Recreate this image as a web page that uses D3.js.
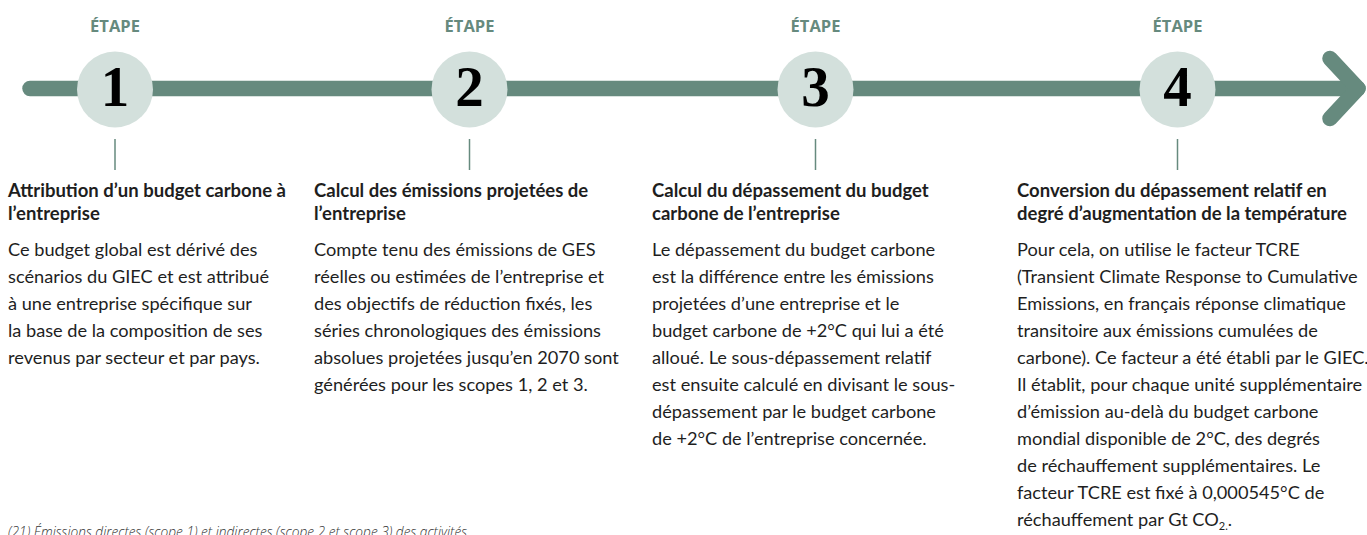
<!DOCTYPE html>
<meta charset="utf-8">
<html>
    <head>
        <script src="https://d3js.org/d3.v7.min.js"></script>
    </head>
    <style>
        body { margin: 0; background: #fff; }
    </style>
    <body>

        <div id="steps_viz"></div>

        <script>

            // step numbers and their label
            var steps = [1, 2, 3, 4];
            var stepLabel = "ÉTAPE";

            // bold titles under each step (one entry per line)
            var titles = [
                ["Attribution d’un budget carbone à", "l’entreprise"],
                ["Calcul des émissions projetées de", "l’entreprise"],
                ["Calcul du dépassement du budget", "carbone de l’entreprise"],
                ["Conversion du dépassement relatif en", "degré d’augmentation de la température"]
            ];

            // body text, one entry per line
            var bodies = [
                ["Ce budget global est dérivé des",
                 "scénarios du GIEC et est attribué",
                 "à une entreprise spécifique sur",
                 "la base de la composition de ses",
                 "revenus par secteur et par pays."],
                ["Compte tenu des émissions de GES",
                 "réelles ou estimées de l’entreprise et",
                 "des objectifs de réduction fixés, les",
                 "séries chronologiques des émissions",
                 "absolues projetées jusqu’en 2070 sont",
                 "générées pour les scopes 1, 2 et 3."],
                ["Le dépassement du budget carbone",
                 "est la différence entre les émissions",
                 "projetées d’une entreprise et le",
                 "budget carbone de +2°C qui lui a été",
                 "alloué. Le sous-dépassement relatif",
                 "est ensuite calculé en divisant le sous-",
                 "dépassement par le budget carbone",
                 "de +2°C de l’entreprise concernée."],
                ["Pour cela, on utilise le facteur TCRE",
                 "(Transient Climate Response to Cumulative",
                 "Emissions, en français réponse climatique",
                 "transitoire aux émissions cumulées de",
                 "carbone). Ce facteur a été établi par le GIEC.",
                 "Il établit, pour chaque unité supplémentaire",
                 "d’émission au-delà du budget carbone",
                 "mondial disponible de 2°C, des degrés",
                 "de réchauffement supplémentaires. Le",
                 "facteur TCRE est fixé à 0,000545°C de",
                 "réchauffement par Gt CO_2."]
            ];

            var footnote = "(21) Émissions directes (scope 1) et indirectes (scope 2 et scope 3) des activités";

            var width = 1367, height = 535;
            var green = "#668a7e", pale = "#d3e0dc", ink = "#1e1e1e";
            var lineY = 88.5, radius = 38;
            var colX = [8, 314, 652, 1017];
            var font = "Lato, 'Noto Sans', sans-serif";

            // the steps are not quite evenly spread along the arrow
            var x = d3.scaleLinear().domain(steps).range([115, 469.5, 815.5, 1177.5]);

            var svg = d3.select("#steps_viz")
                .append("svg")
                .attr("width", width)
                .attr("height", height)
                .attr("viewBox", [0, 0, width, height]);

            // timeline with arrow head
            svg.append("line")
                .attr("x1", 30).attr("x2", 1358)
                .attr("y1", lineY).attr("y2", lineY)
                .attr("stroke", green)
                .attr("stroke-width", 15.5)
                .attr("stroke-linecap", "round");

            svg.append("path")
                .attr("d", d3.line()([[1330, lineY - 30], [1358, lineY], [1330, lineY + 30]]))
                .attr("fill", "none")
                .attr("stroke", green)
                .attr("stroke-width", 15.5)
                .attr("stroke-linecap", "round")
                .attr("stroke-linejoin", "round");

            var step = svg.append("g")
                .selectAll("g")
                .data(steps)
                .join("g")
                .attr("transform", d => `translate(${x(d)},0)`);

            step.append("text")
                .attr("y", 32)
                .attr("text-anchor", "middle")
                .attr("font-family", "'Open Sans', sans-serif")
                .attr("font-weight", 700)
                .attr("font-size", 16.5)
                .attr("fill", green)
                .text(stepLabel);

            step.append("circle")
                .attr("cy", lineY + 1)
                .attr("r", radius)
                .attr("fill", pale);

            step.append("text")
                .attr("y", 106)
                .attr("text-anchor", "middle")
                .attr("font-family", "'Liberation Serif', serif")
                .attr("font-weight", 700)
                .attr("font-size", 57)
                .attr("fill", "#000")
                .text(d => d);

            step.append("line")
                .attr("y1", 139).attr("y2", 170)
                .attr("stroke", green)
                .attr("stroke-width", 1.5);

            // text columns
            var col = svg.append("g")
                .attr("font-family", font)
                .attr("fill", ink)
                .selectAll("g")
                .data(steps)
                .join("g")
                .attr("transform", (d, i) => `translate(${colX[i]},0)`);

            col.append("text")
                .attr("font-weight", 700)
                .attr("font-size", 18.5)
                .selectAll("tspan")
                .data((d, i) => titles[i])
                .join("tspan")
                .attr("x", 0)
                .attr("y", (_, j) => 197 + j * 23)
                .text(t => t);

            var bodyLine = col.append("text")
                .attr("font-size", 18.2)
                .selectAll("tspan")
                .data((d, i) => bodies[i])
                .join("tspan")
                .attr("x", 0)
                .attr("y", (_, j) => 256 + j * 27);

            // plain lines, and the CO2 line with its subscript
            bodyLine.each(function(t) {
                var parts = t.split("_");
                var sel = d3.select(this);
                sel.append("tspan").text(parts[0]);
                if (parts.length > 1) {
                    sel.append("tspan").attr("font-size", 11).attr("dy", 4).text(parts[1]);
                    sel.append("tspan").attr("dy", -4).text(".");
                }
            });

            svg.append("text")
                .attr("x", 8)
                .attr("y", 537)
                .attr("font-family", "'Open Sans', sans-serif")
                .attr("font-style", "italic")
                .attr("font-weight", 300)
                .attr("font-size", 13.7)
                .attr("fill", "#333")
                .text(footnote);

        </script>
    </body>
</html>
